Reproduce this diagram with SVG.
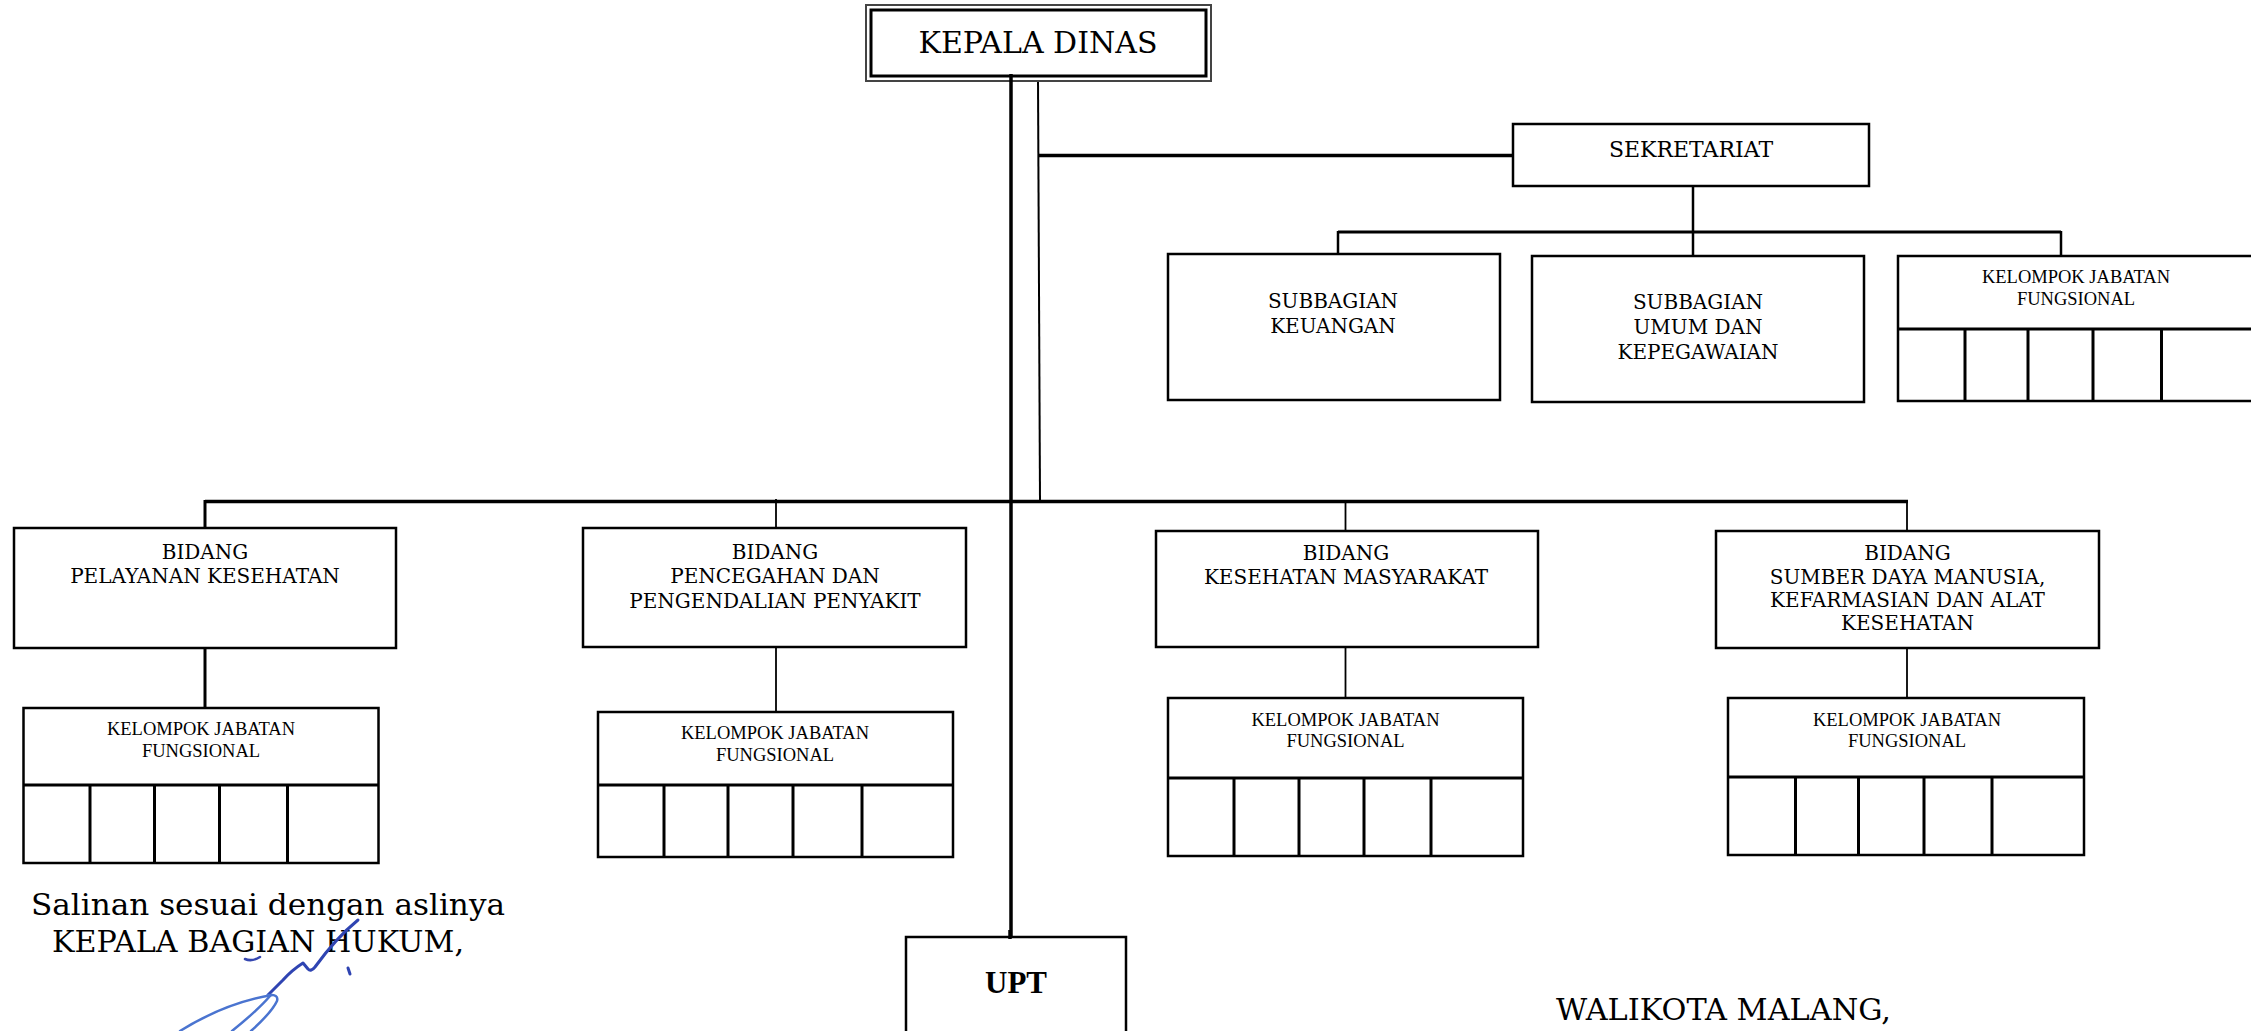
<svg xmlns="http://www.w3.org/2000/svg" width="2251" height="1031" viewBox="0 0 2251 1031">
<style>
  .box { fill: #fff; stroke: #000; stroke-width: 2.5; }
  .kjf { fill: #fff; stroke: #000; stroke-width: 2.5; }
  .cell { stroke: #000; stroke-width: 3; fill: none; }
  .ln { stroke: #000; fill: none; }
  .t { font-family: "DejaVu Serif", "Liberation Serif", serif; font-size: 20px; fill: #000; text-anchor: middle; }
  .k { font-family: "Liberation Serif", "Times New Roman", serif; font-size: 18.5px; fill: #000; text-anchor: middle; }
  .big { font-family: "DejaVu Serif", "Liberation Serif", serif; font-size: 30px; fill: #000; }
  .sig { fill: none; stroke-linecap: round; stroke-linejoin: round; }
</style>
<rect width="2251" height="1031" fill="#fff"/>

<g id="connectors">
  <line class="ln" x1="1011" y1="74" x2="1011" y2="939" stroke-width="3.5"/>
  <line class="ln" x1="1038" y1="79" x2="1040" y2="501" stroke-width="2" stroke="#333"/>
  <line class="ln" x1="1039" y1="155.5" x2="1513" y2="155.5" stroke-width="3.5"/>
  <line class="ln" x1="205" y1="501.5" x2="1908" y2="501.5" stroke-width="3.5"/>
  <line class="ln" x1="205" y1="500" x2="205" y2="528" stroke-width="3"/>
  <line class="ln" x1="776" y1="499" x2="776" y2="528" stroke-width="1.8"/>
  <line class="ln" x1="1345.5" y1="501" x2="1345.5" y2="531" stroke-width="1.8"/>
  <line class="ln" x1="1907" y1="500" x2="1907" y2="531" stroke-width="1.8"/>
  <line class="ln" x1="205" y1="648" x2="205" y2="708" stroke-width="3"/>
  <line class="ln" x1="776" y1="647" x2="776" y2="712" stroke-width="1.8"/>
  <line class="ln" x1="1345.5" y1="647" x2="1345.5" y2="698" stroke-width="1.8"/>
  <line class="ln" x1="1907" y1="648" x2="1907" y2="698" stroke-width="1.8"/>
  <line class="ln" x1="1693" y1="186" x2="1693" y2="256" stroke-width="2.5"/>
  <line class="ln" x1="1338" y1="232" x2="2061" y2="232" stroke-width="3"/>
  <line class="ln" x1="1338" y1="231" x2="1338" y2="254" stroke-width="2.5"/>
  <line class="ln" x1="2061" y1="231" x2="2061" y2="256" stroke-width="2.5"/>
</g>

<g id="kepala-dinas">
  <rect x="866" y="5" width="345" height="76" fill="#fff" stroke="#444" stroke-width="2"/>
  <rect x="871" y="10" width="335" height="66" fill="none" stroke="#000" stroke-width="3"/>
  <line class="ln" x1="1011" y1="74" x2="1011" y2="82" stroke-width="3.5"/>
  <text class="big" x="1038" y="53" text-anchor="middle">KEPALA DINAS</text>
</g>

<g id="sekretariat">
  <rect class="box" x="1513" y="124" width="356" height="62"/>
  <text class="t" x="1691" y="157" style="font-size:22px">SEKRETARIAT</text>
</g>

<g id="subbagian-keuangan">
  <rect class="box" x="1168" y="254" width="332" height="146"/>
  <text class="t" x="1333" y="308">SUBBAGIAN</text>
  <text class="t" x="1333" y="333">KEUANGAN</text>
</g>

<g id="subbagian-umum">
  <rect class="box" x="1532" y="256" width="332" height="146"/>
  <text class="t" x="1698" y="309">SUBBAGIAN</text>
  <text class="t" x="1698" y="334">UMUM DAN</text>
  <text class="t" x="1698" y="359">KEPEGAWAIAN</text>
</g>

<g id="kjf-sekretariat">
  <rect class="kjf" x="1898" y="256" width="400" height="145"/>
  <line class="cell" x1="1898" y1="329" x2="2260" y2="329"/>
  <line class="cell" x1="1965" y1="329" x2="1965" y2="402"/>
  <line class="cell" x1="2028" y1="329" x2="2028" y2="401"/>
  <line class="cell" x1="2093" y1="329" x2="2093" y2="401"/>
  <line class="cell" x1="2161.5" y1="329" x2="2161.5" y2="401"/>
  <text class="k" x="2076" y="283">KELOMPOK JABATAN</text>
  <text class="k" x="2076" y="305">FUNGSIONAL</text>
</g>

<g id="bidang-pelayanan">
  <rect class="box" x="14" y="528" width="382" height="120"/>
  <text class="t" x="205" y="559">BIDANG</text>
  <text class="t" x="205" y="583">PELAYANAN KESEHATAN</text>
</g>
<g id="kjf-pelayanan">
  <rect class="kjf" x="23.5" y="708" width="355" height="155"/>
  <line class="cell" x1="23.5" y1="785" x2="378.5" y2="785"/>
  <line class="cell" x1="90" y1="785" x2="90" y2="863"/>
  <line class="cell" x1="154.5" y1="785" x2="154.5" y2="863"/>
  <line class="cell" x1="219.5" y1="785" x2="219.5" y2="863"/>
  <line class="cell" x1="287.5" y1="785" x2="287.5" y2="863"/>
  <text class="k" x="201" y="735">KELOMPOK JABATAN</text>
  <text class="k" x="201" y="757">FUNGSIONAL</text>
</g>

<g id="bidang-pencegahan">
  <rect class="box" x="583" y="528" width="383" height="119"/>
  <text class="t" x="775" y="559">BIDANG</text>
  <text class="t" x="775" y="583">PENCEGAHAN DAN</text>
  <text class="t" x="775" y="608">PENGENDALIAN PENYAKIT</text>
</g>
<g id="kjf-pencegahan">
  <rect class="kjf" x="598" y="712" width="355" height="145"/>
  <line class="cell" x1="598" y1="785" x2="953" y2="785"/>
  <line class="cell" x1="664" y1="785" x2="664" y2="857"/>
  <line class="cell" x1="728" y1="785" x2="728" y2="857"/>
  <line class="cell" x1="793" y1="785" x2="793" y2="857"/>
  <line class="cell" x1="862" y1="785" x2="862" y2="857"/>
  <text class="k" x="775" y="739">KELOMPOK JABATAN</text>
  <text class="k" x="775" y="761">FUNGSIONAL</text>
</g>

<g id="bidang-kesmas">
  <rect class="box" x="1156" y="531" width="382" height="116"/>
  <text class="t" x="1346" y="560">BIDANG</text>
  <text class="t" x="1346" y="584">KESEHATAN MASYARAKAT</text>
</g>
<g id="kjf-kesmas">
  <rect class="kjf" x="1168" y="698" width="355" height="158"/>
  <line class="cell" x1="1168" y1="778" x2="1523" y2="778"/>
  <line class="cell" x1="1234" y1="778" x2="1234" y2="856"/>
  <line class="cell" x1="1299" y1="778" x2="1299" y2="856"/>
  <line class="cell" x1="1364" y1="778" x2="1364" y2="856"/>
  <line class="cell" x1="1431" y1="778" x2="1431" y2="856"/>
  <text class="k" x="1345.5" y="726">KELOMPOK JABATAN</text>
  <text class="k" x="1345.5" y="747">FUNGSIONAL</text>
</g>

<g id="bidang-sdm">
  <rect class="box" x="1716" y="531" width="383" height="117"/>
  <text class="t" x="1907.5" y="560">BIDANG</text>
  <text class="t" x="1907.5" y="584">SUMBER DAYA MANUSIA,</text>
  <text class="t" x="1907.5" y="607">KEFARMASIAN DAN ALAT</text>
  <text class="t" x="1907.5" y="630">KESEHATAN</text>
</g>
<g id="kjf-sdm">
  <rect class="kjf" x="1728" y="698" width="356" height="157"/>
  <line class="cell" x1="1728" y1="777" x2="2084" y2="777"/>
  <line class="cell" x1="1795.5" y1="777" x2="1795.5" y2="856"/>
  <line class="cell" x1="1858.5" y1="777" x2="1858.5" y2="855"/>
  <line class="cell" x1="1924" y1="777" x2="1924" y2="855"/>
  <line class="cell" x1="1992" y1="777" x2="1992" y2="855"/>
  <text class="k" x="1907" y="726">KELOMPOK JABATAN</text>
  <text class="k" x="1907" y="747">FUNGSIONAL</text>
</g>

<g id="upt">
  <rect class="box" x="906" y="937" width="220" height="130" stroke-width="2"/>
  <line class="ln" x1="1010" y1="930" x2="1010" y2="939" stroke-width="3.5"/>
  <text x="1016" y="993" text-anchor="middle" font-family="'Liberation Serif', 'Times New Roman', serif" font-weight="bold" font-size="31">UPT</text>
</g>

<g id="signature-block">
  <text class="big" x="31" y="915" textLength="474" lengthAdjust="spacingAndGlyphs">Salinan sesuai dengan aslinya</text>
  <text class="big" x="52" y="952" textLength="412" lengthAdjust="spacingAndGlyphs">KEPALA BAGIAN HUKUM,</text>
  <path class="sig" d="M245 959 Q252 962 260 957" stroke="#3446b0" stroke-width="2.5"/>
  <path class="sig" d="M358 920 Q336 938 315 967 Q311 972 308 969 L303 963 Q292 970 283 980 L268 995" stroke="#2f44b2" stroke-width="3"/>
  <path class="sig" d="M268 995 Q279 994 277 1001 Q272 1012 251 1031" stroke="#4a74d0" stroke-width="2.5"/>
  <path class="sig" d="M270 996 Q258 1010 232 1031" stroke="#4a74d0" stroke-width="2.5"/>
  <path class="sig" d="M272 995 Q225 1003 180 1031" stroke="#4a74d0" stroke-width="2.5"/>
  <path class="sig" d="M348 968 L350 974" stroke="#2f44b2" stroke-width="3"/>
  <text class="big" x="1556" y="1020" textLength="335" lengthAdjust="spacingAndGlyphs">WALIKOTA MALANG,</text>
</g>
</svg>
